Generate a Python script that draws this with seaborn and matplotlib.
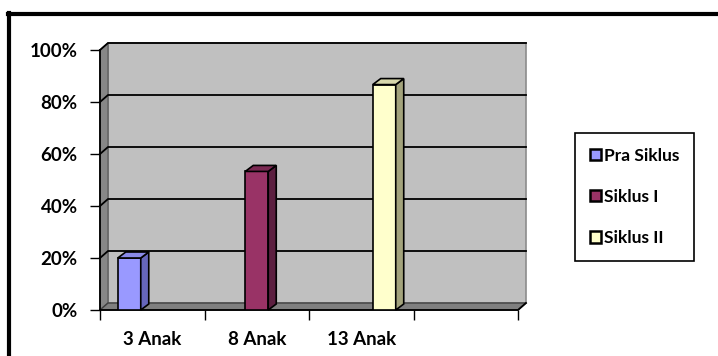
import numpy as np
import pandas as pd
import matplotlib
matplotlib.use("Agg")
import matplotlib.pyplot as plt
import matplotlib.colors as mcolors
import seaborn as sns
from matplotlib.patches import Polygon, Patch
from matplotlib.lines import Line2D
from matplotlib.transforms import IdentityTransform

# ---- data ----
categories = ["3 Anak", "8 Anak", "13 Anak", ""]
series = ["Pra Siklus", "Siklus I", "Siklus II"]
series_category = ["3 Anak", "8 Anak", "13 Anak"]
values = [0.20, 0.533, 0.867]
yticks = [0.0, 0.2, 0.4, 0.6, 0.8, 1.0]
ytick_labels = ["0%", "20%", "40%", "60%", "80%", "100%"]

front_colors = ["#9999FF", "#993366", "#FFFFCC"]
side_colors = ["#6666BB", "#5C1F40", "#A3A37C"]
top_colors = ["#8A8AE8", "#7A2952", "#D8D8AC"]

plt.rcParams["font.family"] = ["Lato", "DejaVu Sans"]
plt.rcParams["font.weight"] = "bold"

df = pd.DataFrame({"kategori": series_category, "siklus": series, "nilai": values})

W, H = 718, 356
fig = plt.figure(figsize=(W / 100, H / 100), dpi=100)
ax = fig.add_axes([100 / W, 46 / H, 418 / W, 260 / H])

sns.barplot(data=df, x="kategori", y="nilai", hue="siklus", order=categories,
            hue_order=series, palette=front_colors, saturation=1, width=0.66,
            dodge=True, edgecolor="black", linewidth=1.2, ax=ax, legend=False,
            zorder=5)
ax.set_xlim(-0.5, 3.5)
ax.set_ylim(0, 1)
ax.patch.set_visible(False)
for s in ax.spines.values():
    s.set_visible(False)
ax.set_xlabel("")
ax.set_ylabel("")

ax.set_yticks(yticks, ytick_labels)
ax.tick_params(axis="y", direction="out", length=7, width=1, color="black",
               pad=9, labelsize=13.5)
ax.set_xticks(range(len(categories)), categories)
ax.set_xticks(np.arange(-0.5, len(categories), 1.0), minor=True)
ax.tick_params(axis="x", which="major", length=0, pad=15, labelsize=13.5)
ax.tick_params(axis="x", which="minor", direction="out", length=7, width=1,
               color="black")
for t in ax.get_xticklabels() + ax.get_yticklabels():
    t.set_fontweight("bold")

DX, DY = 8, 7     # wall depth in pixels
BX, BY = 8, 6     # bar depth in pixels


def pt(x, y, d=0, ddx=DX, ddy=DY):
    X, Y = ax.transData.transform((x, y))
    return (X + d * ddx, Y + d * ddy)


IT = IdentityTransform()
x0, x1 = -0.5, 3.5

# back wall
ax.add_patch(Polygon([pt(x0, 0, 1), pt(x1, 0, 1), pt(x1, 1, 1), pt(x0, 1, 1)],
                     closed=True, fc="#C0C0C0", ec="#8C8C8C", lw=1.2,
                     transform=IT, clip_on=False, zorder=0))
# side wall
ax.add_patch(Polygon([pt(x0, 0, 0), pt(x0, 0, 1), pt(x0, 1, 1), pt(x0, 1, 0)],
                     closed=True, fc="#878787", ec="#606060", lw=1,
                     transform=IT, clip_on=False, zorder=1))
# floor
ax.add_patch(Polygon([pt(x0, 0, 0), pt(x1, 0, 0), pt(x1, 0, 1), pt(x0, 0, 1)],
                     closed=True, fc="#7F7F7F", ec="#404040", lw=1,
                     transform=IT, clip_on=False, zorder=1))

# gridlines (side wall + back wall)
for yv in yticks[1:]:
    a, b, c = pt(x0, yv, 0), pt(x0, yv, 1), pt(x1, yv, 1)
    ax.add_line(Line2D([a[0], b[0], c[0]], [a[1], b[1], c[1]], color="black",
                       lw=1.3, transform=IT, clip_on=False, zorder=2))

# axis lines
a, b = pt(x0, 0, 0), pt(x0, 1, 0)
ax.add_line(Line2D([a[0], b[0]], [a[1], b[1]], color="black", lw=1.3,
                   transform=IT, clip_on=False, zorder=3))
a, b, c = pt(x0, 0, 0), pt(x1, 0, 0), pt(x1, 0, 1)
ax.add_line(Line2D([a[0], b[0], c[0]], [a[1], b[1], c[1]], color="black",
                   lw=1.3, transform=IT, clip_on=False, zorder=3))

# 3D faces on the bars
bar_patches = [p for p in ax.patches if hasattr(p, "get_width") and not isinstance(p, Polygon)]
for p in bar_patches:
    h = p.get_height()
    if not np.isfinite(h) or h <= 0:
        continue
    fc = mcolors.to_hex(p.get_facecolor())
    idx = [mcolors.to_hex(c) for c in front_colors].index(fc)
    bx0 = p.get_x()
    bx1 = bx0 + p.get_width()
    side = [pt(bx1, 0, 0, BX, BY), pt(bx1, 0, 1, BX, BY),
            pt(bx1, h, 1, BX, BY), pt(bx1, h, 0, BX, BY)]
    top = [pt(bx0, h, 0, BX, BY), pt(bx1, h, 0, BX, BY),
           pt(bx1, h, 1, BX, BY), pt(bx0, h, 1, BX, BY)]
    ax.add_patch(Polygon(side, closed=True, fc=side_colors[idx], ec="black",
                         lw=1.2, transform=IT, clip_on=False, zorder=6))
    ax.add_patch(Polygon(top, closed=True, fc=top_colors[idx], ec="black",
                         lw=1.2, transform=IT, clip_on=False, zorder=6))

# legend
handles = [Patch(fc=c, ec="black", lw=1.8) for c in front_colors]
leg = fig.legend(handles, series, loc="upper left",
                 bbox_to_anchor=(575 / W, (H - 133) / H), frameon=True,
                 fancybox=False, edgecolor="black", framealpha=1,
                 handlelength=0.62, handleheight=0.62, handletextpad=0.2,
                 labelspacing=1.45, borderpad=0.85, borderaxespad=0,
                 prop={"weight": "bold", "size": 12.5})
leg.get_frame().set_linewidth(1.2)

# outer frame (top and left visible)
fig.add_artist(Line2D([8 / W, 1.0], [(H - 14) / H, (H - 14) / H],
                      transform=fig.transFigure, color="black", lw=3))
fig.add_artist(Line2D([9 / W, 9 / W], [0, (H - 13) / H],
                      transform=fig.transFigure, color="black", lw=3))

fig.savefig("out.png", dpi=100)
